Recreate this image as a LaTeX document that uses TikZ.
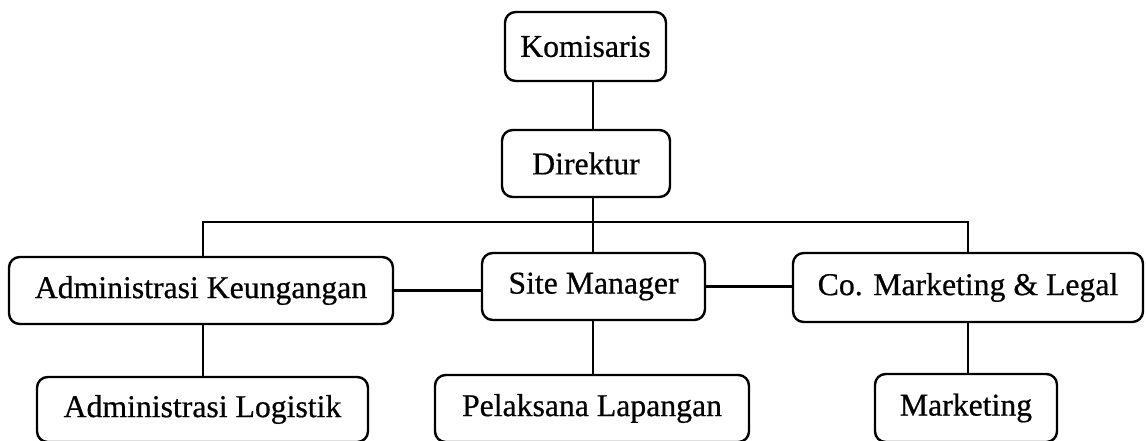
\documentclass[tikz,border=0pt]{standalone}
\usepackage{fontspec}
\setmainfont{Liberation Serif}[FakeBold=0.6]
\newfontfamily\boxfont{Liberation Serif}[FakeBold=0.6,AutoFakeBold=0.6]
\begin{document}
\begin{tikzpicture}[x=0.75pt,y=-0.75pt,
  box/.style={draw, line width=1.8pt, rounded corners=8pt, inner sep=0pt,
    align=center, font=\boxfont\bfseries\fontsize{23.8}{28}\selectfont},
  link/.style={line width=1.8pt}]
\useasboundingbox (0,0) rectangle (1146,440);
\node[box, minimum width=161*0.75pt, minimum height=69*0.75pt] (kom) at (585.5,46.5) {Komisaris};
\node[box, minimum width=168*0.75pt, minimum height=67*0.75pt] (dir) at (586,163.5) {Direktur};
\node[box, minimum width=384*0.75pt, minimum height=67*0.75pt] (ak) at (201,290.5) {Administrasi Keungangan};
\node[box, minimum width=223*0.75pt, minimum height=67*0.75pt] (sm) at (593.5,286.5) {Site Manager};
\node[box, minimum width=350*0.75pt, minimum height=69*0.75pt] (cm) at (968,287.5) {Co. Marketing \& Legal};
\node[box, minimum width=331*0.75pt, minimum height=65*0.75pt] (al) at (202.5,409.5) {Administrasi Logistik};
\node[box, minimum width=314*0.75pt, minimum height=67*0.75pt] (pl) at (592,408.5) {Pelaksana Lapangan};
\node[box, minimum width=182*0.75pt, minimum height=68*0.75pt] (mk) at (966,408) {Marketing};
\coordinate (cx) at (593,0);
\coordinate (lx) at (203,0);
\coordinate (rx) at (968,0);
\coordinate (bus) at (593,222);
\draw[link] (kom.south -| cx) -- (dir.north -| cx);
\draw[link] (dir.south -| cx) -- (sm.north -| cx);
\draw[link] (ak.north -| lx) |- (bus) -| (cm.north -| rx);
\draw[link] (ak.east) -- (sm.west |- ak.east);
\draw[link] (sm.east) -- (cm.west |- sm.east);
\draw[link] (ak.south -| lx) -- (al.north -| lx);
\draw[link] (sm.south -| cx) -- (pl.north -| cx);
\draw[link] (cm.south -| rx) -- (mk.north -| rx);
\end{tikzpicture}
\end{document}
